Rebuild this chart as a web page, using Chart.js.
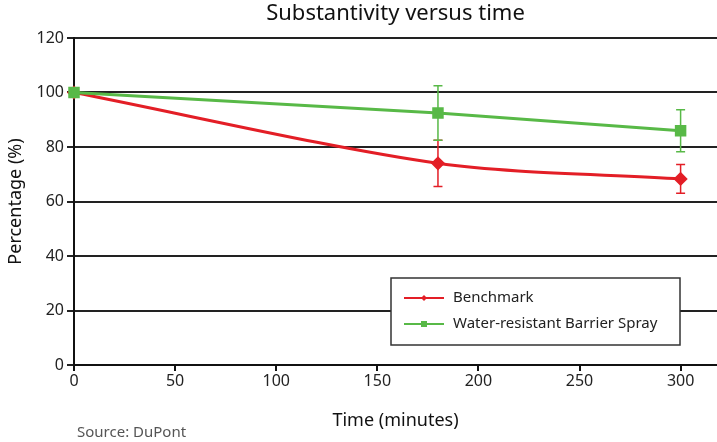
<!DOCTYPE html>
<html>
<head>
<meta charset="utf-8">
<script src="https://cdn.jsdelivr.net/npm/chart.js@4"></script>
<style>
  html, body { margin: 0; padding: 0; background: #fff; }
  #wrap { width: 717px; height: 442px; }
</style>
</head>
<body>
<div id="wrap"><canvas id="myChart"></canvas></div>
<script>
// data
const times = [0, 180, 300];
const benchmark = [100, 74, 68.3];
const benchmarkErr = [0, 8.5, 5.3];
const spray = [100, 92.5, 86];
const sprayErr = [0, 10, 7.7];
const xTicks = [0, 50, 100, 150, 200, 250, 300];
const yTicks = [0, 20, 40, 60, 80, 100, 120];

const RED = '#e31e26';
const GREEN = '#58b947';
const FONT = '"Noto Sans", "DejaVu Sans", sans-serif';

// error bars, drawn under the markers
const errorBars = {
  id: 'errorBars',
  beforeDatasetsDraw(chart) {
    const ctx = chart.ctx;
    const y = chart.scales.y;
    chart.data.datasets.forEach((ds, i) => {
      const meta = chart.getDatasetMeta(i);
      ctx.save();
      ctx.strokeStyle = ds.borderColor;
      ctx.lineWidth = 1.5;
      meta.data.forEach((pt, j) => {
        const e = ds.errors[j];
        if (!e) return;
        const top = y.getPixelForValue(ds.data[j].y + e);
        const bot = y.getPixelForValue(ds.data[j].y - e);
        ctx.beginPath();
        ctx.moveTo(pt.x, top); ctx.lineTo(pt.x, bot);
        ctx.moveTo(pt.x - 4.5, top); ctx.lineTo(pt.x + 4.5, top);
        ctx.moveTo(pt.x - 4.5, bot); ctx.lineTo(pt.x + 4.5, bot);
        ctx.stroke();
      });
      ctx.restore();
    });
  }
};

// title centred over the plot, boxed legend inside the plot, source note
const decorations = {
  id: 'decorations',
  afterDraw(chart) {
    const ctx = chart.ctx;
    const area = chart.chartArea;
    ctx.save();
    ctx.font = '22px ' + FONT;
    ctx.fillStyle = '#111';
    ctx.textAlign = 'center';
    ctx.textBaseline = 'middle';
    ctx.fillText('Substantivity versus time', (area.left + area.right) / 2, 14);

    const x0 = 391, y0 = 278, w = 289, h = 67;
    ctx.textAlign = 'left';
    ctx.fillStyle = '#fff';
    ctx.fillRect(x0, y0, w, h);
    ctx.strokeStyle = '#333';
    ctx.lineWidth = 1.5;
    ctx.strokeRect(x0, y0, w, h);
    ctx.font = '15px ' + FONT;
    chart.data.datasets.forEach((ds, i) => {
      const cy = y0 + 20 + i * 26;
      ctx.strokeStyle = ds.borderColor;
      ctx.lineWidth = 2;
      ctx.beginPath();
      ctx.moveTo(x0 + 13, cy); ctx.lineTo(x0 + 53, cy);
      ctx.stroke();
      ctx.fillStyle = ds.borderColor;
      if (ds.pointStyle === 'rectRot') {
        ctx.beginPath();
        ctx.moveTo(x0 + 33, cy - 3); ctx.lineTo(x0 + 36, cy);
        ctx.lineTo(x0 + 33, cy + 3); ctx.lineTo(x0 + 30, cy);
        ctx.closePath(); ctx.fill();
      } else {
        ctx.fillRect(x0 + 30, cy - 3, 6, 6);
      }
      ctx.fillStyle = '#222';
      ctx.fillText(ds.label, x0 + 62, cy);
    });
    ctx.font = '15px ' + FONT;
    ctx.fillStyle = '#555';
    ctx.textBaseline = 'alphabetic';
    ctx.fillText('Source: DuPont', 77, 437);
    ctx.restore();
  }
};

const ctx = document.getElementById('myChart').getContext('2d');
new Chart(ctx, {
  type: 'line',
  data: {
    datasets: [{
      label: 'Benchmark',
      data: times.map((t, i) => ({ x: t, y: benchmark[i] })),
      errors: benchmarkErr,
      borderColor: RED,
      backgroundColor: RED,
      borderWidth: 3,
      tension: 0.3,
      pointStyle: 'rectRot',
      pointRadius: 5,
      pointHoverRadius: 5,
      clip: false,
      order: 1
    }, {
      label: 'Water-resistant Barrier Spray',
      data: times.map((t, i) => ({ x: t, y: spray[i] })),
      errors: sprayErr,
      borderColor: GREEN,
      backgroundColor: GREEN,
      borderWidth: 3,
      tension: 0,
      pointStyle: 'rect',
      pointRadius: 6,
      pointHoverRadius: 6,
      clip: false,
      order: 0
    }]
  },
  options: {
    responsive: true,
    maintainAspectRatio: false,
    animation: false,
    layout: { autoPadding: false, padding: { left: 0, right: 0, top: 38, bottom: 0 } },
    plugins: {
      legend: { display: false },
      tooltip: { enabled: false },
      title: { display: false }
    },
    scales: {
      x: {
        type: 'linear',
        min: 0,
        max: 318,
        afterBuildTicks(scale) {
          scale.ticks = xTicks.map(v => ({ value: v }));
        },
        afterFit(scale) {
          scale.height = 77;
          scale.paddingLeft = 0;
          scale.paddingRight = 0;
        },
        grid: { drawOnChartArea: false, drawTicks: true, tickLength: 6, color: '#111', lineWidth: 2 },
        border: { color: '#111', width: 2 },
        ticks: { color: '#222', font: { family: FONT, size: 16 }, padding: 1 },
        title: {
          display: true,
          text: 'Time (minutes)',
          color: '#111',
          font: { family: FONT, size: 18 },
          padding: { top: 0, bottom: 10 }
        }
      },
      y: {
        min: 0,
        max: 120,
        afterBuildTicks(scale) {
          scale.ticks = yTicks.map(v => ({ value: v }));
        },
        afterFit(scale) { scale.width = 74; },
        grid: { color: '#222', lineWidth: 2, tickLength: 7 },
        border: { color: '#111', width: 2 },
        ticks: { color: '#222', font: { family: FONT, size: 16 }, padding: 3 },
        title: {
          display: true,
          text: 'Percentage (%)',
          color: '#111',
          font: { family: FONT, size: 18 },
          padding: { top: 5, bottom: 4 }
        }
      }
    }
  },
  plugins: [errorBars, decorations]
});
</script>
</body>
</html>
